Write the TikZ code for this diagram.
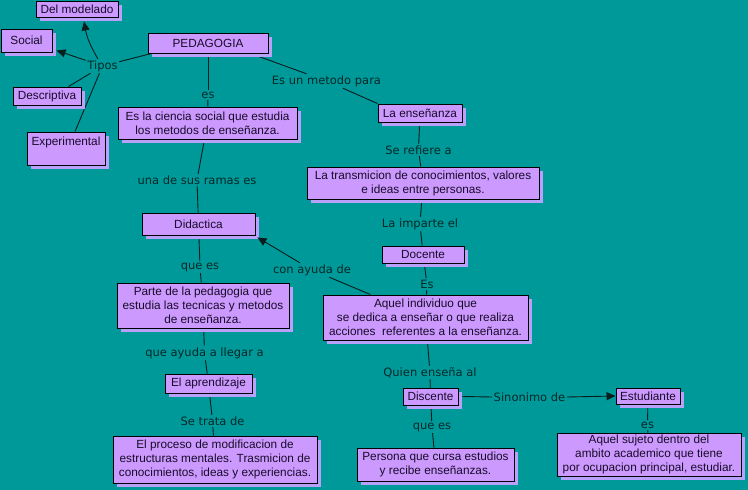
\documentclass[tikz,border=0pt]{standalone}
\usepackage{fontspec}
\setmainfont{Liberation Sans}
\newfontfamily\lblfont{DejaVu Sans}
\usetikzlibrary{shadows,arrows.meta}
\definecolor{bgteal}{HTML}{009999}
\definecolor{boxfill}{HTML}{CC99FF}
\definecolor{boxshadow}{HTML}{B9A0FA}
\definecolor{lbltext}{HTML}{042828}
\definecolor{boxtext}{HTML}{180C28}
\definecolor{linecol}{HTML}{061E1E}
\pgfdeclarelayer{back}
\pgfsetlayers{back,main}
\begin{document}
\begin{tikzpicture}[x=1pt,y=-1pt,
  box/.style={draw=black, line width=0.9pt, fill=boxfill, text=boxtext, align=center, inner sep=0pt,
    font=\fontsize{11.8}{14}\selectfont,
    general shadow={fill=boxshadow, shadow xshift=4pt, shadow yshift=-4pt}},
  lbl/.style={text=lbltext, inner sep=1.5pt, font=\lblfont\fontsize{11.5}{13}\selectfont},
  conn/.style={draw=linecol, line width=0.9pt},
  arr/.style={conn, -{Triangle[length=9pt,width=8pt]}}]
\useasboundingbox (0,0) rectangle (748,490);
\begin{pgfonlayer}{back}
\fill[bgteal] (0,0) rectangle (748,490);
\end{pgfonlayer}

% boxes
\node[box, minimum width=82pt, minimum height=16pt] (delmod) at (77,9) {Del modelado};
\node[box, minimum width=51pt, minimum height=23pt] (social) at (26.5,40.5) {Social};
\node[box, minimum width=120pt, minimum height=20pt] (ped) at (208,43) {PEDAGOGIA};
\node[box, minimum width=68pt, minimum height=18pt] (descr) at (47,96) {Descriptiva};
\node[box, minimum width=78pt, minimum height=33pt, text height=11pt, text depth=17pt] (exper) at (66,148.5) {Experimental};
\node[box, minimum width=179pt, minimum height=32pt] (ciencia) at (207.5,123) {Es la ciencia social que estudia\\los metodos de enseñanza.};
\node[box, minimum width=84pt, minimum height=18pt] (ensen) at (420,113) {La enseñanza};
\node[box, minimum width=232pt, minimum height=32pt] (transm) at (423,183) {La transmicion de conocimientos, valores\\e ideas entre personas.};
\node[box, minimum width=82pt, minimum height=17pt] (docente) at (423,254.5) {Docente};
\node[box, minimum width=205pt, minimum height=45pt] (aquelind) at (425.5,317.5) {Aquel individuo que\\se dedica a enseñar o que realiza\\acciones\ \ referentes a la enseñanza.};
\node[box, minimum width=113pt, minimum height=22pt] (didactica) at (198.5,224) {Didactica};
\node[box, minimum width=172pt, minimum height=45pt] (parte) at (203,305.5) {Parte de la pedagogia que\\estudia las tecnicas y metodos\\de enseñanza.};
\node[box, minimum width=87pt, minimum height=19pt] (aprend) at (208.5,383.5) {El aprendizaje};
\node[box, minimum width=204pt, minimum height=47pt] (proceso) at (215,459.5) {El proceso de modificacion de\\estructuras mentales. Trasmicion de\\conocimientos, ideas y experiencias.};
\node[box, minimum width=55pt, minimum height=17pt] (discente) at (430.5,396.5) {Discente};
\node[box, minimum width=64pt, minimum height=16pt] (estud) at (648,396) {Estudiante};
\node[box, minimum width=184pt, minimum height=43pt] (sujeto) at (649,454.5) {Aquel sujeto dentro del\\ambito academico que tiene\\por ocupacion principal, estudiar.};
\node[box, minimum width=157pt, minimum height=33pt] (persona) at (435.5,464.5) {Persona que cursa estudios\\y recibe enseñanzas.};

% labels
\node[lbl] (tipos) at (102.5,66) {Tipos};
\node[lbl] (es1) at (208,95) {es};
\node[lbl] (metodo) at (326.5,81) {Es un metodo para};
\node[lbl] (refiere) at (418.5,150) {Se refiere a};
\node[lbl] (ramas) at (197,180) {una de sus ramas es};
\node[lbl] (imparte) at (420,224) {La imparte el};
\node[lbl] (es2) at (427,284) {Es};
\node[lbl] (quees1) at (200,267) {que es};
\node[lbl] (ayuda) at (312,270) {con ayuda de};
\node[lbl] (llegar) at (204.5,353) {que ayuda a llegar a};
\node[lbl] (trata) at (212.5,421) {Se trata de};
\node[lbl] (quien) at (430,372.5) {Quien enseña al};
\node[lbl] (sinon) at (529.5,397) {Sinonimo de};
\node[lbl] (quees2) at (432,427) {que es};
\node[lbl] (es3) at (647.5,425) {es};

% plain connectors (under the boxes and their shadows)
\begin{pgfonlayer}{back}
\draw[conn] (tipos) -- ([xshift=4pt]ped.south west);
\draw[conn] (tipos) -- ([xshift=-13pt]descr.north east);
\draw[conn] (tipos) -- ([xshift=9pt]exper.north);
\draw[conn] (ped) -- (es1);
\draw[conn] (es1) -- (ciencia);
\draw[conn] ([xshift=-18pt]ped.south east) -- (metodo);
\draw[conn] (metodo) -- (ensen.north west);
\draw[conn] (ciencia) -- (ramas);
\draw[conn] (ramas) -- (didactica);
\draw[conn] (ensen) -- (refiere);
\draw[conn] (refiere) -- (transm);
\draw[conn] (transm) -- (imparte);
\draw[conn] (imparte) -- (docente);
\draw[conn] (docente) -- (es2);
\draw[conn] (es2) -- (aquelind);
\draw[conn] (didactica) -- (quees1);
\draw[conn] (quees1) -- (parte);
\draw[conn] (parte) -- (llegar);
\draw[conn] (llegar) -- (aprend);
\draw[conn] (aprend) -- (trata);
\draw[conn] (trata) -- (proceso);
\draw[conn] ([xshift=-55pt]aquelind.north) -- (ayuda);
\draw[conn] (aquelind) -- (quien);
\draw[conn] (quien) -- (discente);
\draw[conn] (discente) -- (quees2);
\draw[conn] (quees2) -- (persona);
\draw[conn] ([xshift=4pt]discente.east) -- (sinon.west);
\draw[conn] (estud) -- (es3);
\draw[conn] (es3) -- (sujeto);
\end{pgfonlayer}

% arrows
\draw[arr] (tipos) to[bend left=10] ([xshift=7pt,yshift=-4pt]delmod.south);
\draw[arr] (tipos) -- ([xshift=4pt,yshift=2pt]social.south east);
\draw[arr] (ayuda) -- ([xshift=2pt,yshift=-2pt]didactica.south east);
\draw[arr] (sinon.east) -- (estud.west);
\end{tikzpicture}
\end{document}
